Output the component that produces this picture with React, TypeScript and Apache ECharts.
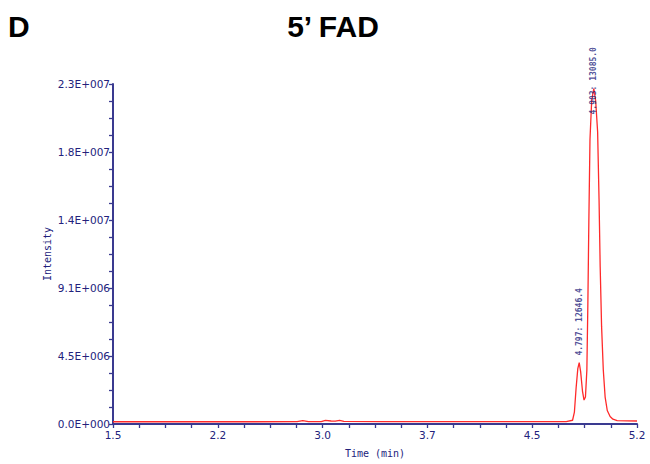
import React, { useEffect, useRef } from "react";
import * as echarts from "echarts";

const panelLetter = "D";
const chartTitle = "5\u2019 FAD";
const xAxisName = "Time (min)";
const yAxisName = "Intensity";

// retention time (min) and intensity
const times = [
  1.5, 2.0, 2.5, 2.80, 2.84, 2.88, 2.97, 3.0, 3.04, 3.07, 3.1, 3.13, 3.4, 3.9, 4.3, 4.6,
  4.7, 4.745, 4.758, 4.77, 4.782, 4.792, 4.802, 4.815, 4.826, 4.836, 4.846, 4.853,
  4.86, 4.868, 4.88, 4.895, 4.908, 4.922, 4.932, 4.94, 4.95, 4.962, 4.975, 4.99,
  5.01, 5.03, 5.06, 5.2,
];
const intensities = [
  1.5e5, 1.5e5, 1.5e5, 1.55e5, 2.2e5, 1.6e5, 1.6e5, 2.4e5, 2.0e5, 1.9e5, 2.4e5, 1.7e5, 1.6e5, 1.6e5, 1.6e5, 1.6e5,
  1.6e5, 2.5e5, 8e5, 2.4e6, 3.7e6, 4.1e6, 3.5e6, 2.2e6, 1.6e6, 1.8e6, 3.6e6, 8e6,
  1.35e7, 1.9e7, 2.16e7, 2.24e7, 2.16e7, 1.95e7, 1.5e7, 1.05e7, 6.5e6, 3.6e6, 1.8e6, 9e5,
  5e5, 3.2e5, 2.3e5, 2.0e5,
];

// annotated peaks
const peakTimes = [4.792, 4.895];
const peakIntensities = [4.1e6, 2.24e7];
const peakLabels = ["4.797: 12646.4", "4.903: 13085.0"];
const peakLabelOffsets = [-7, 26];

// axis scale
const xMin = 1.5;
const xMax = 5.2;
const xStep = 0.74;
const yMax = 2.27e7;
const yStep = 4.54e6;

const navy = "#3a3a90";
const textNavy = "#22227c";
const tickFont = "'DejaVu Sans', Verdana, sans-serif";

function sciLabel(v: number): string {
  if (v === 0) return "0.0E+000";
  const exp = Math.floor(Math.log10(Math.abs(v)));
  const mant = v / Math.pow(10, exp);
  let m = mant.toFixed(1);
  let e = exp;
  if (m === "10.0") {
    m = "1.0";
    e += 1;
  }
  return m + "E+" + String(e).padStart(3, "0");
}

export default function App() {
  const ref = useRef<HTMLDivElement>(null);
  useEffect(() => {
    if (!ref.current) return;
    const chart = echarts.init(ref.current, undefined, { renderer: "svg" });
    const lineData = times.map((t, i) => [t, intensities[i]]);
    const peakData = peakTimes.map((t, i) => ({
      value: [t, peakIntensities[i]],
      label: {
        show: true,
        formatter: peakLabels[i],
        position: [0, peakLabelOffsets[i]],
        rotate: 90,
        align: "left",
        verticalAlign: "middle",
        fontFamily: "DejaVu Sans Mono",
        fontSize: 8,
        fontWeight: "bold",
        color: textNavy,
      },
    }));
    chart.setOption({
      animation: false,
      backgroundColor: "#ffffff",
      grid: { left: 113, right: 13, top: 84, bottom: 40, containLabel: false },
      graphic: [
        {
          type: "text",
          left: 8,
          top: 11,
          style: {
            text: panelLetter,
            font: "bold 30px 'Liberation Sans', Arial, sans-serif",
            fill: "#000",
          },
        },
        {
          type: "text",
          x: 333,
          y: 11,
          style: {
            text: chartTitle,
            font: "bold 30px 'Liberation Sans', Arial, sans-serif",
            fill: "#000",
            textAlign: "center",
          },
        },
      ],
      xAxis: [
        {
          type: "value",
          min: xMin,
          max: xMax,
          show: false,
        },
        {
          type: "value",
          position: "bottom",
          min: 0,
          max: xMax - xMin,
          interval: xStep,
          name: xAxisName,
          nameLocation: "middle",
          nameGap: 24,
          nameMoveOverlap: false,
          nameTextStyle: { fontFamily: "DejaVu Sans Mono", fontSize: 10, color: textNavy },
          axisLine: { show: true, lineStyle: { color: navy, width: 2 } },
          axisTick: { show: true, length: 4, lineStyle: { color: navy, width: 1.3 } },
          minorTick: { show: true, splitNumber: 4, length: 4, lineStyle: { color: navy, width: 1.3 } },
          splitLine: { show: false },
          axisLabel: {
            margin: 5,
            fontFamily: tickFont,
            fontSize: 10.5,
            color: textNavy,
            formatter: (v: number) => (v + xMin).toFixed(1),
          },
        },
      ],
      yAxis: {
        type: "value",
        min: 0,
        max: yMax,
        interval: yStep,
        name: yAxisName,
        nameLocation: "middle",
        nameGap: 61,
        nameMoveOverlap: false,
        nameTextStyle: { fontFamily: "DejaVu Sans Mono", fontSize: 10, color: textNavy },
        axisLine: { show: true, lineStyle: { color: navy, width: 2 } },
        axisTick: { show: true, length: 4, lineStyle: { color: navy, width: 1.3 } },
        minorTick: { show: true, splitNumber: 4, length: 4, lineStyle: { color: navy, width: 1.3 } },
        splitLine: { show: false },
        axisLabel: {
          margin: 3,
          fontFamily: tickFont,
          fontSize: 10.5,
          color: textNavy,
          formatter: (v: number) => sciLabel(v),
        },
      },
      series: [
        {
          type: "line",
          xAxisIndex: 0,
          data: lineData,
          showSymbol: false,
          symbol: "none",
          smooth: false,
          lineStyle: { color: "#ff2a2a", width: 1.3 },
          z: 2,
        },
        {
          type: "scatter",
          xAxisIndex: 0,
          data: peakData,
          symbolSize: 0,
          silent: true,
          z: 3,
        },
      ],
    });
    return () => chart.dispose();
  }, []);
  return <div ref={ref} style={{ width: 650, height: 464, position: "absolute", left: 0, top: 0 }} />;
}
